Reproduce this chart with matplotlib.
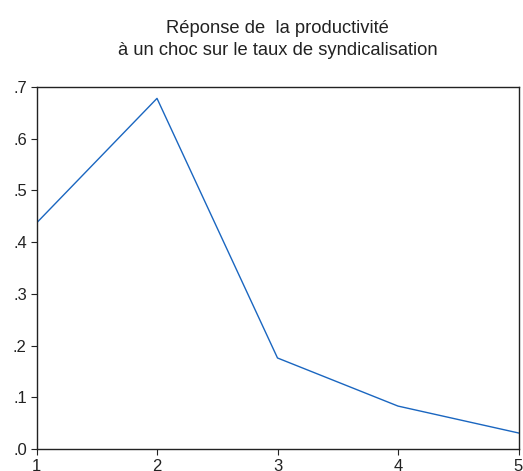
import matplotlib
matplotlib.use("Agg")
import matplotlib.pyplot as plt
from matplotlib.ticker import FuncFormatter

periods = [1, 2, 3, 4, 5]
response = [0.437, 0.678, 0.176, 0.083, 0.031]
yticks = [0.0, 0.1, 0.2, 0.3, 0.4, 0.5, 0.6, 0.7]
title = "Réponse de  la productivité\nà un choc sur le taux de syndicalisation"

plt.rcParams['font.family'] = ['Liberation Sans', 'DejaVu Sans']

fig = plt.figure(figsize=(5.23, 4.71), dpi=100)
ax = fig.add_axes([36.5/523, 22/471, (518.5-36.5)/523, (449-87)/471])
ax.plot(periods, response, color='#1a66c0', lw=1.0)
ax.set_xlim(1, 5)
ax.set_ylim(0, 0.7)
ax.set_xticks(periods)
ax.set_yticks(yticks)
ax.yaxis.set_major_formatter(FuncFormatter(lambda v, p: ("%.1f" % v)[1:] if v >= 0 else "%.1f" % v))
ax.tick_params(axis='both', direction='out', length=4.5, width=0.8, labelsize=12, colors='#222222', pad=2.5)
for s in ax.spines.values():
    s.set_linewidth(1.0)
    s.set_color('#222222')
fig.text(277.5/523, 1 - 39.5/471, title, ha='center', va='center', fontsize=13.2, color='#222222', linespacing=1.38)
fig.savefig("out.png", dpi=100)
